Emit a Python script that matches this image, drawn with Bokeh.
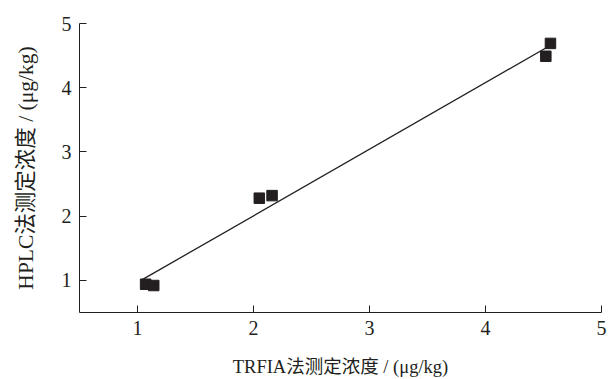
from bokeh.plotting import figure
from bokeh.models import Range1d, FixedTicker
from bokeh.embed import file_html
from bokeh.resources import INLINE

# data
trfia = [1.07, 1.14, 2.05, 2.16, 4.52, 4.56]
hplc = [0.94, 0.92, 2.28, 2.32, 4.49, 4.69]
fit_x = [1.03, 4.58]
fit_y = [1.00, 4.68]
x_ticks = [1, 2, 3, 4, 5]
y_ticks = [1, 2, 3, 4, 5]
x_title = "TRFIA法测定浓度 / (μg/kg)"
y_title = "HPLC法测定浓度 / (μg/kg)"

FONT = "'Liberation Serif', 'Noto Sans CJK SC'"
INK = "#231f20"

p = figure(width=609, height=379, output_backend="svg", toolbar_location=None,
           x_range=Range1d(0.5, 5), y_range=Range1d(0.5, 5),
           min_border_left=79, min_border_right=8, min_border_top=23, min_border_bottom=66)
p.outline_line_color = None
p.xgrid.visible = False
p.ygrid.visible = False
p.background_fill_color = "white"

p.line(fit_x, fit_y, line_color=INK, line_width=1.3)
p.scatter(trfia, hplc, marker="square", size=10.5, fill_color=INK, line_color=INK)

for ax, ticks in ((p.xaxis[0], x_ticks), (p.yaxis[0], y_ticks)):
    ax.ticker = FixedTicker(ticks=ticks)
    ax.minor_tick_line_color = None
    ax.major_tick_in = 7
    ax.major_tick_out = 0
    ax.axis_line_color = INK
    ax.major_tick_line_color = INK
    ax.major_label_text_font = FONT
    ax.major_label_text_font_size = "20px"
    ax.major_label_text_color = INK
    ax.axis_label_text_font = FONT
    ax.axis_label_text_font_style = "normal"
    ax.axis_label_text_color = INK
    ax.major_label_standoff = 8

p.xaxis.axis_label = x_title
p.yaxis.axis_label = y_title
p.xaxis.axis_label_text_font_size = "18.5px"
p.yaxis.axis_label_text_font_size = "21.5px"
p.xaxis.axis_label_standoff = 19
p.yaxis.axis_label_standoff = 21

open("out.html", "w").write(file_html(p, INLINE))
